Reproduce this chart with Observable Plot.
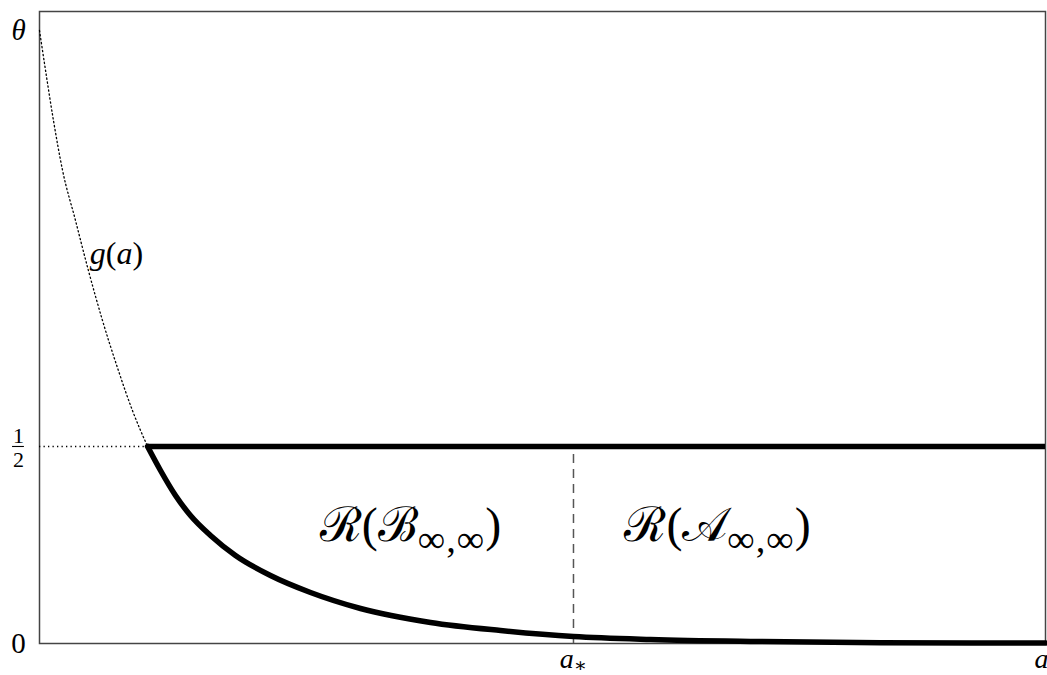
<!DOCTYPE html>
<html>
<head>
<meta charset="utf-8">
<script src="https://cdn.jsdelivr.net/npm/d3@7"></script>
<script src="https://cdn.jsdelivr.net/npm/@observablehq/plot@0.6"></script>
<style>
  html, body { margin: 0; padding: 0; background: #fff; }
  #chart svg { display: block; }
</style>
</head>
<body>
<div id="chart"></div>
<script>
// a (normalised 0..1) and y (theta = 1)
const yHalf = 0.3214;
const aStar = 0.5308;

// boundary curve of the region (thick)
const boundaryA = [0.1074, 0.1203, 0.1352, 0.1501, 0.1700, 0.1948, 0.2296, 0.2694, 0.3191, 0.3887, 0.4583, 0.5308, 0.6074, 0.7068, 0.8360, 1.0];
const boundaryY = [0.3214, 0.2822, 0.2414, 0.2088, 0.1762, 0.1436, 0.1109, 0.0832, 0.0571, 0.0343, 0.0212, 0.0114, 0.0065, 0.0033, 0.0013, 0.0008];

// g(a) dotted curve
const gA = [0.0, 0.0060, 0.0139, 0.0229, 0.0358, 0.0487, 0.0626, 0.0785, 0.0924, 0.1074];
const gY = [1.0, 0.935, 0.853, 0.772, 0.690, 0.608, 0.527, 0.445, 0.380, 0.3214];

// tick labels
const yTickValues = [0, 1];
const yTickLabels = ["0", "θ"];
const xTickValues = [aStar, 1];
const xTickLabels = ["a*", "a"];

// annotations
const regionNames = ["ℬ", "𝒜"];
const regionA = [0.3688, 0.674];
const regionY = [0.1925, 0.1925];

const boundary = boundaryA.map((a, i) => ({a, y: boundaryY[i]}));
const gCurve = gA.map((a, i) => ({a, y: gY[i]}));
const regions = regionNames.map((n, i) => ({n, a: regionA[i], y: regionY[i]}));
const yTicks = yTickValues.map((v, i) => ({v, t: yTickLabels[i]}));
const xTicks = xTickValues.map((v, i) => ({v, t: xTickLabels[i]}));

const serif = "'Liberation Serif', 'DejaVu Serif', serif";

const chart = Plot.plot({
  width: 1047,
  height: 675,
  marginLeft: 39,
  marginRight: 2,
  marginTop: 11,
  marginBottom: 32,
  x: {domain: [0, 1], axis: null},
  y: {domain: [0, 1.031], axis: null},
  style: {fontFamily: serif, background: "#fff"},
  marks: [
    Plot.frame({stroke: "#444", strokeWidth: 1.5}),
    // g(a) dotted
    Plot.line(gCurve, {x: "a", y: "y", curve: "monotone-x", stroke: "#000", strokeWidth: 1.3, strokeDasharray: "1.3,2.7"}),
    // dotted horizontal to 1/2
    Plot.ruleY([yHalf], {x1: 0, x2: boundaryA[0], stroke: "#000", strokeWidth: 1.3, strokeDasharray: "1.3,3.2"}),
    // dashed vertical at a*
    Plot.ruleX([aStar], {y1: 0, y2: yHalf, stroke: "#555", strokeWidth: 1.5, strokeDasharray: "9,6"}),
    // thick horizontal at 1/2
    Plot.ruleY([yHalf], {x1: boundaryA[0], x2: 1, stroke: "#000", strokeWidth: 5.5}),
    // thick boundary curve
    Plot.line(boundary, {x: "a", y: "y", curve: "monotone-x", stroke: "#000", strokeWidth: 5.5, strokeLinecap: "round", strokeLinejoin: "round"}),
    // y tick labels
    Plot.text(yTicks.filter(d => d.t === "0"), {x: 0, y: "v", text: "t", dx: -21, fontSize: 29, fill: "#000", textAnchor: "middle"}),
    Plot.text(yTicks.filter(d => d.t === "θ"), {x: 0, y: "v", text: "t", dx: -21, fontSize: 29, fontStyle: "italic", fill: "#000", textAnchor: "middle"}),
    // 1/2 fraction
    Plot.text([yHalf], {x: 0, y: d => d, text: ["1\n2"], dx: -21, dy: 1, fontSize: 22, lineHeight: 1.1, fill: "#000", textAnchor: "middle"}),
    Plot.ruleY([yHalf], {x1: -0.0268, x2: -0.0150, stroke: "#000", strokeWidth: 1.1}),
    // x tick labels
    Plot.text(xTicks.filter(d => d.v !== 1), {x: "v", y: 0, text: "t", dy: 16, fontSize: 28, fontStyle: "italic", fill: "#000", textAnchor: "middle"}),
    Plot.text(xTicks.filter(d => d.v === 1), {x: "v", y: 0, text: "t", dy: 16, dx: 3, fontSize: 28, fontStyle: "italic", fill: "#000", textAnchor: "end"}),
    // g(a) label
    Plot.text(["g(a)"], {x: 0.0765, y: 0.6365, text: d => d, fontSize: 32, fontStyle: "italic", fill: "#000", textAnchor: "middle"}),
    // region labels
    Plot.text(regions, {x: "a", y: "y", text: "n", fontSize: 48, fill: "#000", textAnchor: "middle"})
  ]
});

document.getElementById("chart").appendChild(chart);

// Rewrite texts that need sub/superscripts
d3.select(chart).selectAll("text").each(function() {
  const t = d3.select(this);
  const s = t.text();
  if (regionNames.includes(s)) {
    t.text(null);
    t.append("tspan").text("ℛ(");
    t.append("tspan").text(s);
    t.append("tspan").attr("font-size", "0.8em").attr("dy", "0.28em").attr("letter-spacing", "1").text("∞,∞");
    t.append("tspan").attr("dy", "-0.224em").text(")");
  } else if (s === "a*") {
    t.text(null);
    t.append("tspan").text("a");
    t.append("tspan").attr("font-size", "0.7em").attr("dy", "0.2em").attr("font-style", "normal").text("∗");
  } else if (s === "g(a)") {
    t.text(null);
    t.append("tspan").text("g");
    t.append("tspan").attr("font-style", "normal").text("(");
    t.append("tspan").text("a");
    t.append("tspan").attr("font-style", "normal").text(")");
  }
});
</script>
</body>
</html>
